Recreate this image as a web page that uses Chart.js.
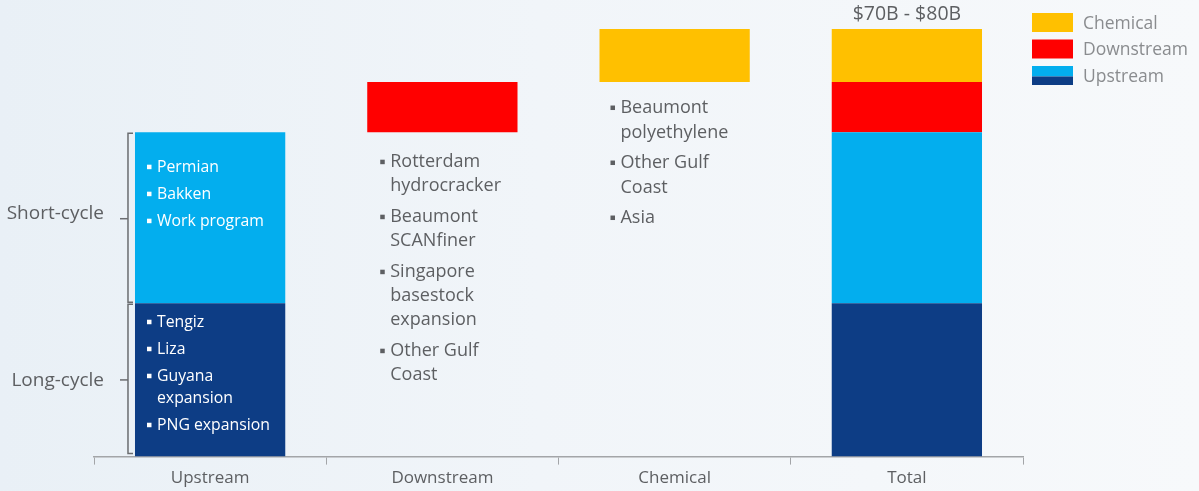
<!DOCTYPE html>
<html><head><meta charset="utf-8">
<script src="https://cdn.jsdelivr.net/npm/chart.js@4.4.1/dist/chart.umd.min.js"></script>
<style>
html,body{margin:0;padding:0;}
body{width:1199px;height:491px;background:linear-gradient(90deg,#e9f0f6 0%,#f1f5f9 45%,#f7f9fb 100%);overflow:hidden;}
#wrap{position:relative;width:1199px;height:491px;}
</style></head>
<body><div id="wrap"><canvas id="c" width="1199" height="491"></canvas></div>
<script>
// ---- data ----
const categories = ["Upstream", "Downstream", "Chemical", "Total"];
const longCycle = 26.9;   // Upstream long-cycle
const shortCycle = 30;    // Upstream short-cycle
const downstream = 8.8;
const chemical = 9.3;
const totalLabel = "$70B - $80B";
const sideLabels = ["Short-cycle", "Long-cycle"];
const legendLabels = ["Chemical", "Downstream", "Upstream"];
const shortItems = [["Permian"], ["Bakken"], ["Work program"]];
const longItems = [["Tengiz"], ["Liza"], ["Guyana", "expansion"], ["PNG expansion"]];
const downstreamItems = [["Rotterdam", "hydrocracker"], ["Beaumont", "SCANfiner"], ["Singapore", "basestock", "expansion"], ["Other Gulf", "Coast"]];
const chemicalItems = [["Beaumont", "polyethylene"], ["Other Gulf", "Coast"], ["Asia"]];

const C_DARK = "#0d3d85", C_LIGHT = "#03aeee", C_RED = "#ff0000", C_YEL = "#ffc000";
const GREY = "#5d5f62";
const FONT = "'Open Sans', Lato, sans-serif";

const l0 = 0, l1 = longCycle, s1 = l1 + shortCycle, d1 = s1 + downstream, c1 = d1 + chemical;

const datasets = [
  {label: "Long-cycle", data: [[l0, l1], null, null, [l0, l1]], backgroundColor: C_DARK},
  {label: "Short-cycle", data: [[l1, s1], null, null, [l1, s1]], backgroundColor: C_LIGHT},
  {label: "Downstream", data: [null, [s1, d1], null, [s1, d1]], backgroundColor: C_RED},
  {label: "Chemical", data: [null, null, [d1, c1], [d1, c1]], backgroundColor: C_YEL}
].map(d => Object.assign(d, {grouped: false, categoryPercentage: 1, barPercentage: 0.647, borderWidth: 0}));

function drawItems(ctx, items, x, yStart, size, color, lineH, gap) {
  ctx.save();
  ctx.font = size + "px " + FONT;
  ctx.textBaseline = "middle";
  ctx.textAlign = "left";
  ctx.fillStyle = color;
  let y = yStart;
  items.forEach(lines => {
    ctx.fillRect(x, y - 2.5, 4.5, 4.5);
    lines.forEach((ln, i) => {
      ctx.fillText(ln, x + 10, y);
      if (i < lines.length - 1) y += lineH;
    });
    y += gap;
  });
  ctx.restore();
}

const overlay = {
  id: "overlay",
  afterDraw(chart) {
    const ctx = chart.ctx;
    const y = chart.scales.y;
    const bar = (ds, i) => chart.getDatasetMeta(ds).data[i];
    // Upstream texts
    const up = bar(1, 0);
    const upLeft = up.x - up.width / 2;
    drawItems(ctx, shortItems, upLeft + 12, y.getPixelForValue(s1) + 35, 15.8, "#ffffff", 22, 27);
    drawItems(ctx, longItems, upLeft + 12, y.getPixelForValue(l1) + 19, 15.8, "#ffffff", 22, 27);
    // Downstream texts
    const dn = bar(2, 1);
    drawItems(ctx, downstreamItems, dn.x - dn.width / 2 + 13, y.getPixelForValue(s1) + 30, 18, GREY, 24, 31);
    // Chemical texts
    const ch = bar(3, 2);
    drawItems(ctx, chemicalItems, ch.x - ch.width / 2 + 11, y.getPixelForValue(d1) + 26, 18, GREY, 25, 30);
    // Total label
    const tt = bar(3, 3);
    ctx.save();
    ctx.font = "19.5px " + FONT;
    ctx.fillStyle = GREY;
    ctx.textAlign = "center";
    ctx.textBaseline = "middle";
    ctx.fillText(totalLabel, tt.x, y.getPixelForValue(c1) - 15);
    ctx.restore();
    // brackets + side labels
    const bx = upLeft - 7;
    const yTop = y.getPixelForValue(s1), yMid = y.getPixelForValue(l1), yBot = y.getPixelForValue(l0) - 3;
    ctx.save();
    ctx.strokeStyle = "#6b6d70";
    ctx.lineWidth = 1.5;
    [[yTop + 1, yMid - 1], [yMid + 1, yBot]].forEach(([a, b]) => {
      ctx.beginPath();
      ctx.moveTo(bx + 5, a); ctx.lineTo(bx, a); ctx.lineTo(bx, b); ctx.lineTo(bx + 5, b);
      ctx.stroke();
      const m = (a + b) / 2;
      ctx.beginPath(); ctx.moveTo(bx, m + 1); ctx.lineTo(bx - 8, m + 1); ctx.stroke();
    });
    ctx.font = "19px " + FONT;
    ctx.fillStyle = GREY;
    ctx.textAlign = "right";
    ctx.textBaseline = "middle";
    ctx.fillText(sideLabels[0], bx - 24, (yTop + yMid) / 2 - 4);
    ctx.fillText(sideLabels[1], bx - 24, (yMid + yBot) / 2 + 2);
    ctx.restore();
    // legend
    const lx = 1032, bw = 41, bh = 19;
    const rows = [[C_YEL], [C_RED], [C_LIGHT, C_DARK]];
    ctx.save();
    ctx.font = "17.5px " + FONT;
    ctx.textBaseline = "middle";
    ctx.textAlign = "left";
    rows.forEach((cols, i) => {
      const ty = 13 + i * 26.5;
      if (cols.length === 1) { ctx.fillStyle = cols[0]; ctx.fillRect(lx, ty, bw, bh); }
      else {
        ctx.fillStyle = cols[0]; ctx.fillRect(lx, ty, bw, bh * 0.55);
        ctx.fillStyle = cols[1]; ctx.fillRect(lx, ty + bh * 0.55, bw, bh * 0.45);
      }
      ctx.fillStyle = "#8a8c8f";
      ctx.fillText(legendLabels[i], lx + 51, ty + bh / 2 + 1.5);
    });
    ctx.restore();
  }
};

new Chart(document.getElementById("c"), {
  type: "bar",
  data: {labels: categories, datasets},
  options: {
    responsive: false,
    animation: false,
    devicePixelRatio: 1,
    layout: {padding: {left: 94, right: 176, top: 29, bottom: 0}},
    plugins: {legend: {display: false}, tooltip: {enabled: false}},
    scales: {
      x: {
        grid: {display: true, drawOnChartArea: false, drawTicks: true, tickLength: 8, color: "#a3a5a8", offset: true},
        border: {display: true, color: "#a3a5a8", width: 1.5},
        ticks: {color: GREY, font: {family: FONT, size: 17}, padding: 3}
      },
      y: {display: false, min: 0, max: c1}
    }
  },
  plugins: [overlay]
});
</script></body></html>
